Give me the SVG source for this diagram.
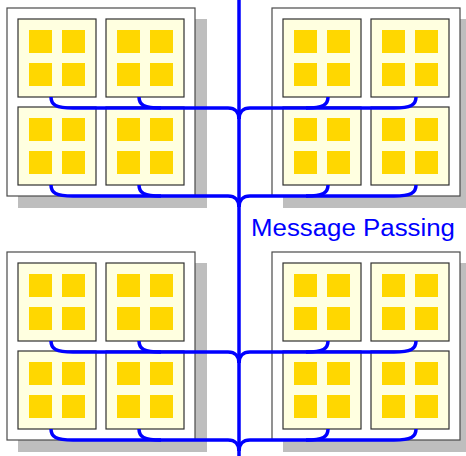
<svg xmlns="http://www.w3.org/2000/svg" xmlns:xlink="http://www.w3.org/1999/xlink" width="466" height="456" viewBox="0 0 466 456">
  <style>
    .shadow { fill: #bebebe; }
    .outer { fill: #ffffff; stroke: #4a4a4a; stroke-width: 1.2; }
    .inner { fill: #ffffe0; stroke: #303030; stroke-width: 1.2; }
    .core { fill: #ffd700; }
    .bus { fill: none; stroke: #0000ff; stroke-width: 3.5; }
    .label { font-family: "Liberation Sans", Arial, sans-serif; font-size: 23px; fill: #0000ff; }
  </style>
  <defs>
    <g id="cpu">
      <rect class="inner" x="0" y="0" width="78" height="78"/>
      <rect class="core" x="11" y="11" width="23" height="23"/>
      <rect class="core" x="44" y="11" width="23" height="23"/>
      <rect class="core" x="11" y="44" width="23" height="23"/>
      <rect class="core" x="44" y="44" width="23" height="23"/>
    </g>
  </defs>

  <g id="node-top-left">
    <rect class="shadow" x="18" y="19" width="189" height="189"/>
    <rect class="outer" x="7" y="8" width="188" height="188"/>
    <use id="tl-cpu1" xlink:href="#cpu" x="18" y="19"/>
    <use id="tl-cpu2" xlink:href="#cpu" x="106" y="19"/>
    <use id="tl-cpu3" xlink:href="#cpu" x="18" y="107"/>
    <use id="tl-cpu4" xlink:href="#cpu" x="106" y="107"/>
  </g>

  <g id="node-top-right">
    <rect class="shadow" x="283" y="19" width="189" height="189"/>
    <rect class="outer" x="272" y="8" width="188" height="188"/>
    <use id="tr-cpu1" xlink:href="#cpu" x="283" y="19"/>
    <use id="tr-cpu2" xlink:href="#cpu" x="371" y="19"/>
    <use id="tr-cpu3" xlink:href="#cpu" x="283" y="107"/>
    <use id="tr-cpu4" xlink:href="#cpu" x="371" y="107"/>
  </g>

  <g id="node-bottom-left">
    <rect class="shadow" x="18" y="263" width="189" height="189"/>
    <rect class="outer" x="7" y="252" width="188" height="188"/>
    <use id="bl-cpu1" xlink:href="#cpu" x="18" y="263"/>
    <use id="bl-cpu2" xlink:href="#cpu" x="106" y="263"/>
    <use id="bl-cpu3" xlink:href="#cpu" x="18" y="351"/>
    <use id="bl-cpu4" xlink:href="#cpu" x="106" y="351"/>
  </g>

  <g id="node-bottom-right">
    <rect class="shadow" x="283" y="263" width="189" height="189"/>
    <rect class="outer" x="272" y="252" width="188" height="188"/>
    <use id="br-cpu1" xlink:href="#cpu" x="283" y="263"/>
    <use id="br-cpu2" xlink:href="#cpu" x="371" y="263"/>
    <use id="br-cpu3" xlink:href="#cpu" x="283" y="351"/>
    <use id="br-cpu4" xlink:href="#cpu" x="371" y="351"/>
  </g>

  <g id="connectors">
    <path class="bus" d="M239,0 L239,456"/>
    <!-- top-left -->
    <path class="bus" d="M51,97 C51,105 56,108 73,108 L228,108 C235,108 239,112 239,119"/>
    <path class="bus" d="M139,97 C139,105 144,108 161,108"/>
    <path class="bus" d="M51,185 C51,193 56,196 73,196 L228,196 C235,196 239,200 239,207"/>
    <path class="bus" d="M139,185 C139,193 144,196 161,196"/>
    <!-- top-right -->
    <path class="bus" d="M416,97 C416,105 411,108 394,108 L250,108 C243,108 239,112 239,119"/>
    <path class="bus" d="M328,97 C328,105 323,108 306,108"/>
    <path class="bus" d="M416,185 C416,193 411,196 394,196 L250,196 C243,196 239,200 239,207"/>
    <path class="bus" d="M328,185 C328,193 323,196 306,196"/>
    <!-- bottom-left -->
    <path class="bus" d="M51,341 C51,349 56,352 73,352 L228,352 C235,352 239,356 239,363"/>
    <path class="bus" d="M139,341 C139,349 144,352 161,352"/>
    <path class="bus" d="M51,429 C51,437 56,440 73,440 L228,440 C235,440 239,444 239,451"/>
    <path class="bus" d="M139,429 C139,437 144,440 161,440"/>
    <!-- bottom-right -->
    <path class="bus" d="M416,341 C416,349 411,352 394,352 L250,352 C243,352 239,356 239,363"/>
    <path class="bus" d="M328,341 C328,349 323,352 306,352"/>
    <path class="bus" d="M416,429 C416,437 411,440 394,440 L250,440 C243,440 239,444 239,451"/>
    <path class="bus" d="M328,429 C328,437 323,440 306,440"/>
  </g>

  <text class="label" x="251" y="236" textLength="204" lengthAdjust="spacingAndGlyphs">Message Passing</text>
</svg>
